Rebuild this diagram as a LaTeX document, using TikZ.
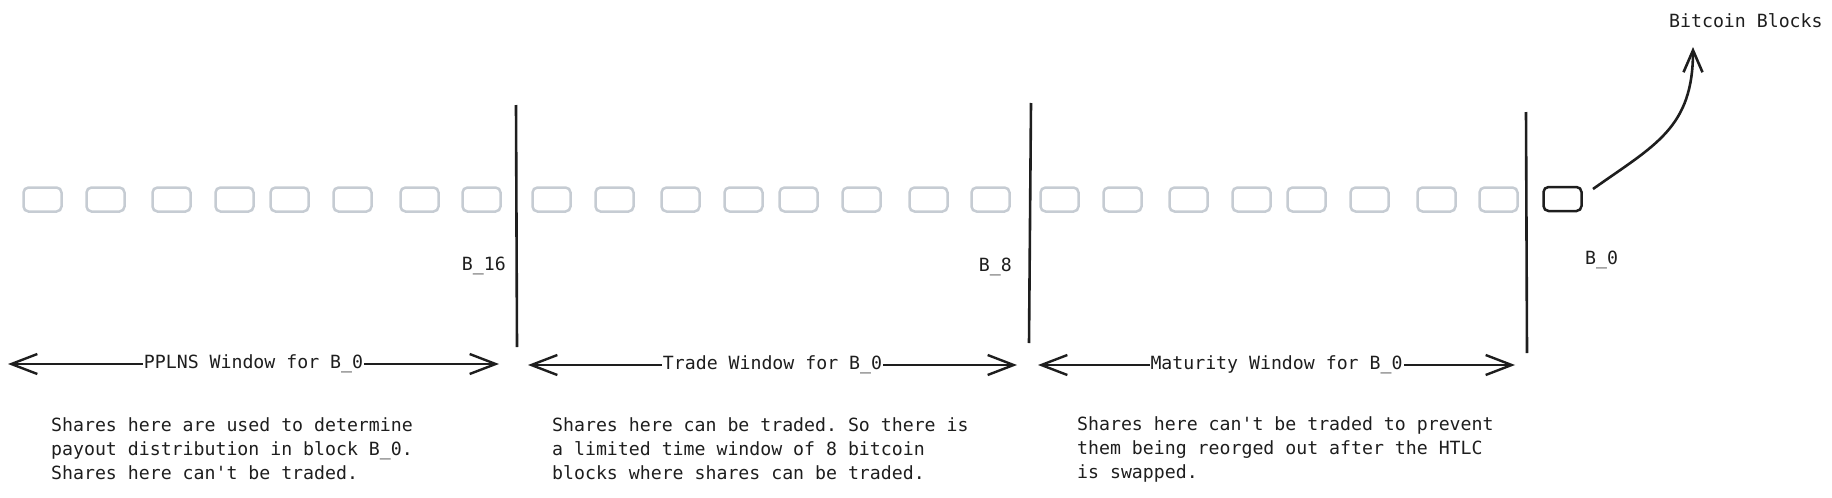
\documentclass[tikz,border=0pt]{standalone}
\usepackage{fontspec}
\setmonofont{DejaVu Sans Mono}
\usetikzlibrary{arrows.meta}

\definecolor{ink}{HTML}{1E1E1E}
\definecolor{shade}{HTML}{C6CCD3}

\tikzset{
  share/.style={draw=shade, line width=2.5pt, rounded corners=5pt, minimum width=38pt, minimum height=24pt, inner sep=0pt},
  window/.style={draw=ink, line width=2.4pt, {Straight Barb[length=26pt,width=20pt]}-{Straight Barb[length=26pt,width=20pt]}},
  cut/.style={draw=ink, line width=2.6pt},
  lbl/.style={font=\ttfamily\fontsize{18.2}{24}\selectfont, text=ink, inner sep=0pt},
}

\begin{document}
\begin{tikzpicture}[x=1pt,y=-1pt]
\useasboundingbox (0,0) rectangle (1832,498);

% share blocks
\foreach \g/\gx in {1/23, 2/532, 3/1040}
  \foreach \o [count=\i] in {0,63,129,192,247,310,377,439}
    \node [share] (s\g\i) at (\gx+\o+19.5,199.5) {};
\node [share, draw=ink] (b0) at (1562.5,199) {};

% block boundaries
\coordinate (c16t) at (516,105);
\coordinate (c16b) at (517,347);
\coordinate (c8t) at (1031,103);
\coordinate (c8b) at (1029,343);
\coordinate (c0t) at (1526,112);
\coordinate (c0b) at (1527,353);
\draw [cut] (c16t) -- (c16b);
\draw [cut] (c8t) -- (c8b);
\draw [cut] (c0t) -- (c0b);
\node [lbl, anchor=east] (l16) at (506,266) {B\_16};
\node [lbl, anchor=east] (l8) at (1012,267) {B\_8};
\node [lbl, anchor=west] (l0) at (1585,260) {B\_0};

% chain tip
\node [lbl, anchor=west] (chain) at (1669,21) {Bitcoin Blocks};
\coordinate (tipa) at (1593,189);
\coordinate (tipb) at (1693,47);
\draw [draw=ink, line width=2.6pt, -{Straight Barb[length=22pt,width=19pt]}]
  (tipa) .. controls (1655,145) and (1693,128) .. (tipb);

% windows
\coordinate (pa) at (8,364);
\coordinate (pb) at (499,364);
\coordinate (ta) at (528,365);
\coordinate (tb) at (1017,365);
\coordinate (ma) at (1038,365);
\coordinate (mb) at (1515,365);
\draw [window] (pa) -- node [lbl, fill=white, inner sep=1pt] (pw) {PPLNS Window for B\_0} (pb);
\draw [window] (ta) -- node [lbl, fill=white, inner sep=1pt] (tw) {Trade Window for B\_0} (tb);
\draw [window] (ma) -- node [lbl, fill=white, inner sep=1pt] (mw) {Maturity Window for B\_0} (mb);

% notes
\node [lbl, anchor=west, align=left] (pn) at (51,449) {Shares here are used to determine\\payout distribution in block B\_0.\\Shares here can't be traded.};
\node [lbl, anchor=west, align=left] (tn) at (552,449) {Shares here can be traded. So there is\\a limited time window of 8 bitcoin\\blocks where shares can be traded.};
\node [lbl, anchor=west, align=left] (mn) at (1077,449) {Shares here can't be traded to prevent\\them being reorged out after the HTLC\\is swapped.};

\end{tikzpicture}
\end{document}
